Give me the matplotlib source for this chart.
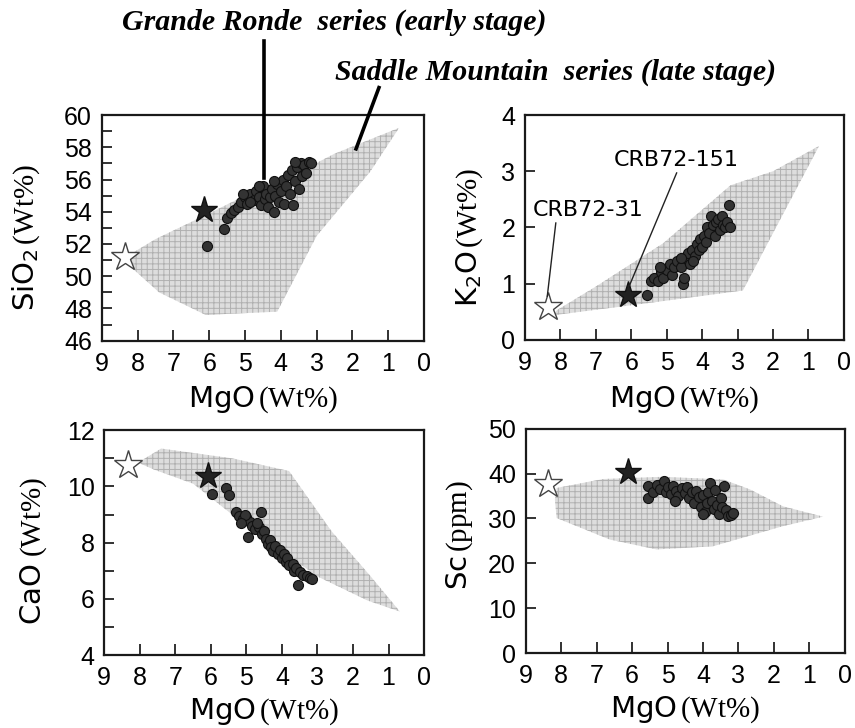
import matplotlib
matplotlib.use("Agg")
import matplotlib.pyplot as plt

plt.rcParams['font.family'] = ['Liberation Sans', 'DejaVu Sans']
plt.rcParams['mathtext.fontset'] = 'custom'
plt.rcParams['mathtext.rm'] = 'Liberation Serif'
plt.rcParams['mathtext.sf'] = 'DejaVu Sans'
plt.rcParams['mathtext.it'] = 'Liberation Serif:italic'
plt.rcParams['hatch.linewidth'] = 0.7

# ---------------- data ----------------
# SiO2 vs MgO
sio2_mgo = [6.05, 5.6, 5.5, 5.4, 5.3, 5.2, 5.1, 5.0, 4.95, 4.85, 4.75, 4.7, 4.6, 4.55,
            4.5, 4.45, 4.4, 4.35, 4.3, 4.25, 4.2, 4.15, 4.1, 4.05, 4.0, 3.95, 3.9, 3.85,
            3.8, 3.75, 3.7, 3.65, 3.6, 3.55, 3.5, 3.45, 3.4, 3.35, 3.3, 3.2, 3.15, 4.6,
            4.85, 5.05, 4.2, 3.6]
sio2_val = [51.9, 52.9, 53.6, 53.9, 54.1, 54.3, 54.6, 54.9, 54.5, 55.1, 54.7, 55.3, 54.9, 54.4,
            55.6, 54.8, 55.1, 54.3, 54.9, 55.4, 54.0, 55.0, 55.7, 54.6, 55.3, 56.0, 54.5, 55.6,
            56.3, 55.1, 56.6, 54.4, 55.9, 56.8, 55.4, 57.0, 56.2, 56.9, 56.4, 57.1, 57.0, 55.6,
            54.6, 55.1, 55.9, 57.1]
sio2_field_x = [8.25, 7.5, 6.0, 5.0, 3.2, 2.5, 0.7, 1.5, 3.0, 4.1, 6.1, 7.4, 8.2]
sio2_field_y = [51.3, 52.3, 53.9, 55.0, 56.8, 57.6, 59.2, 56.5, 52.5, 47.8, 47.6, 49.0, 50.6]

# K2O vs MgO
k2o_mgo = [5.55, 5.45, 5.35, 5.25, 5.15, 5.1, 5.0, 4.9, 4.85, 4.8, 4.7, 4.6, 4.55, 4.5,
           4.45, 4.4, 4.35, 4.3, 4.2, 4.15, 4.1, 4.05, 4.0, 3.95, 3.9, 3.85, 3.8, 3.75,
           3.7, 3.65, 3.6, 3.55, 3.5, 3.45, 3.4, 3.35, 3.3, 3.25, 4.25, 4.6, 5.2, 3.2]
k2o_val = [0.8, 1.05, 1.1, 1.05, 1.2, 1.1, 1.25, 1.35, 1.15, 1.3, 1.4, 1.3, 1.0, 1.1,
           1.45, 1.55, 1.35, 1.6, 1.5, 1.7, 1.6, 1.8, 1.65, 1.85, 1.75, 2.0, 1.9, 2.2,
           2.05, 1.85, 2.1, 2.15, 1.95, 2.2, 2.05, 2.0, 2.1, 2.4, 1.4, 1.45, 1.3, 2.0]
k2o_field_x = [8.2, 5.6, 2.85, 2.0, 0.7, 2.0, 3.2, 5.1, 7.0, 8.1]
k2o_field_y = [0.44, 0.65, 0.88, 1.9, 3.45, 3.0, 2.75, 1.72, 0.95, 0.53]

# CaO vs MgO
cao_mgo = [5.98, 5.58, 5.48, 5.3, 5.2, 5.1, 5.0, 4.95, 4.9, 4.85, 4.75, 4.6, 4.65, 4.55,
           4.5, 4.45, 4.4, 4.35, 4.3, 4.25, 4.2, 4.1, 4.05, 4.0, 3.95, 3.9, 3.85, 3.8,
           3.7, 3.65, 3.6, 3.55, 3.5, 3.4, 3.3, 3.2, 3.15, 5.05, 4.7, 5.15]
cao_val = [9.75, 9.95, 9.7, 9.1, 8.95, 8.85, 8.9, 8.2, 8.75, 8.6, 8.5, 9.1, 8.55, 8.3,
           8.4, 8.15, 7.95, 8.1, 7.85, 7.7, 7.9, 7.6, 7.75, 7.45, 7.6, 7.3, 7.45, 7.2,
           7.25, 7.0, 7.1, 6.5, 6.95, 6.85, 6.8, 6.75, 6.7, 9.0, 8.7, 8.7]
cao_field_x = [8.05, 7.4, 5.4, 3.8, 2.6, 1.5, 0.68, 1.6, 3.0, 4.0, 5.3, 6.5, 7.6]
cao_field_y = [10.85, 11.35, 11.0, 10.55, 8.4, 6.8, 5.55, 5.95, 6.8, 7.7, 8.9, 10.1, 10.6]

# Sc vs MgO
sc_mgo = [5.55, 5.55, 5.4, 5.3, 5.2, 5.1, 5.05, 5.0, 4.9, 4.85, 4.75, 4.7, 4.6, 4.5,
          4.45, 4.4, 4.3, 4.25, 4.2, 4.1, 4.05, 4.0, 3.95, 3.9, 3.85, 3.8, 3.75, 3.7,
          3.65, 3.6, 3.55, 3.5, 3.45, 3.4, 3.35, 3.3, 3.2, 3.15, 4.0, 4.8]
sc_val = [37.2, 34.6, 36.0, 37.5, 36.5, 38.3, 36.0, 37.0, 35.5, 37.3, 36.2, 35.0, 36.8, 35.7,
          37.0, 34.5, 35.8, 33.5, 36.2, 34.8, 32.5, 35.2, 31.5, 33.5, 36.0, 38.0, 34.0, 32.2,
          36.3, 33.0, 31.0, 34.5, 32.5, 37.2, 31.8, 30.5, 30.8, 31.3, 31.0, 33.8]
sc_field_x = [8.13, 6.82, 5.13, 3.43, 2.68, 1.74, 0.61, 1.74, 3.72, 5.31, 6.63, 8.13, 8.18]
sc_field_y = [36.8, 38.8, 39.3, 38.7, 36.5, 32.7, 30.4, 28.3, 23.8, 23.1, 25.3, 30.1, 34.2]

# reference samples: CRB72-31 (open star) and CRB72-151 (filled star)
star_open_x = [8.36, 8.34, 8.34, 8.37]
star_open_y = [51.2, 0.59, 10.76, 37.6]
star_fill_x = [6.15, 6.09, 6.08, 6.11]
star_fill_y = [54.1, 0.8, 10.36, 40.3]

panels = [
    dict(x=sio2_mgo, y=sio2_val, fx=sio2_field_x, fy=sio2_field_y, ylim=(46, 60),
         major=[46, 48, 50, 52, 54, 56, 58, 60], minor=list(range(47, 60)),
         ylabel=r"$\mathsf{SiO}_{\mathsf{2}}\,\mathrm{(Wt\%)}$",
         pos=[0.119, 0.532, 0.377, 0.310], ylc=(-0.233, 0.456), xlc=(0.5, -0.261)),
    dict(x=k2o_mgo, y=k2o_val, fx=k2o_field_x, fy=k2o_field_y, ylim=(0, 4),
         major=[0, 1, 2, 3, 4], minor=[],
         ylabel=r"$\mathsf{K}_{\mathsf{2}}\mathsf{O}\,\mathrm{(Wt\%)}$",
         pos=[0.614, 0.533, 0.373, 0.309], ylc=(-0.172, 0.458), xlc=(0.5, -0.267)),
    dict(x=cao_mgo, y=cao_val, fx=cao_field_x, fy=cao_field_y, ylim=(4, 12),
         major=[4, 6, 8, 10, 12], minor=[5, 7, 9, 11],
         ylabel=r"$\mathsf{CaO}\ \mathrm{(Wt\%)}$",
         pos=[0.122, 0.100, 0.374, 0.309], ylc=(-0.222, 0.462), xlc=(0.5, -0.249)),
    dict(x=sc_mgo, y=sc_val, fx=sc_field_x, fy=sc_field_y, ylim=(0, 50),
         major=[0, 10, 20, 30, 40, 50], minor=[],
         ylabel=r"$\mathsf{Sc}\,\mathrm{(ppm)}$",
         pos=[0.615, 0.103, 0.373, 0.308], ylc=(-0.207, 0.527), xlc=(0.5, -0.254)),
]

fig = plt.figure(figsize=(8.55, 7.28), dpi=100)
axes = []
for i, p in enumerate(panels):
    ax = fig.add_axes(p['pos'])
    axes.append(ax)
    ax.fill(p['fx'], p['fy'], facecolor='#dddddd', edgecolor='#b0b0b0',
            hatch='+++', linewidth=0, zorder=1)
    ax.scatter(p['x'], p['y'], s=52, facecolor='#333333', edgecolor='#111111',
               linewidth=0.8, zorder=3)
    ax.plot(star_fill_x[i], star_fill_y[i], marker='*', markersize=20,
            color='#222222', markeredgecolor='#111111', zorder=4, linestyle='none')
    ax.plot(star_open_x[i], star_open_y[i], marker='*', markersize=21,
            markerfacecolor='white', markeredgecolor='#444444', markeredgewidth=1.0,
            zorder=4, linestyle='none')
    ax.set_xlim(9, 0)
    ax.set_ylim(*p['ylim'])
    ax.set_xticks(range(0, 10))
    ax.set_yticks(p['major'])
    ax.set_yticks(p['minor'], minor=True)
    ax.tick_params(axis='both', which='both', direction='in', top=False, right=False,
                   labelsize=18, width=1.3, color='#222222')
    ax.tick_params(axis='x', length=8, pad=8)
    ax.tick_params(axis='y', which='major', length=7, pad=7)
    ax.tick_params(axis='y', which='minor', length=7)
    for sp in ax.spines.values():
        sp.set_linewidth(1.6)
        sp.set_color('#1a1a1a')
    ax.set_xlabel(r"$\mathsf{MgO}\,\mathrm{(Wt\%)}$", fontsize=21)
    ax.set_ylabel(p['ylabel'], fontsize=21)
    ax.xaxis.set_label_coords(*p['xlc'])
    ax.yaxis.set_label_coords(*p['ylc'])
    ax.xaxis.label.set_va('center')
    ax.yaxis.label.set_va('center')

# leader lines for series names (top-left panel)
ax0 = axes[0]
ax0.plot([4.47, 4.47], [56.1, 64.6], color='black', linewidth=2.6, clip_on=False, zorder=5)
ax0.plot([1.26, 1.9], [61.7, 57.9], color='black', linewidth=2.6, clip_on=False, zorder=5)
fig.text(0.391, 0.970, "Grande Ronde  series (early stage)", fontsize=21.5,
         family='Liberation Serif', style='italic', weight='bold', ha='center', va='center')
fig.text(0.650, 0.901, "Saddle Mountain  series (late stage)", fontsize=21.5,
         family='Liberation Serif', style='italic', weight='bold', ha='center', va='center')

# sample labels (K2O panel)
ax1 = axes[1]
ax1.text(4.74, 3.2, "CRB72-151", fontsize=16, family='DejaVu Sans', ha='center', va='center')
ax1.text(7.22, 2.31, "CRB72-31", fontsize=16, family='DejaVu Sans', ha='center', va='center')
ax1.plot([4.72, 6.05], [2.97, 0.97], color='#222222', linewidth=1.0, zorder=5)
ax1.plot([8.13, 8.37], [2.08, 0.78], color='#222222', linewidth=1.0, zorder=5)

fig.savefig("out.png", dpi=100, facecolor='white')
